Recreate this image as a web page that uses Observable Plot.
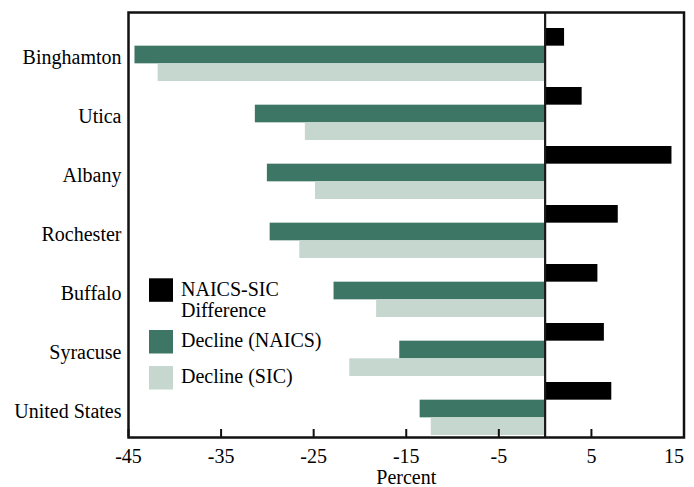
<!DOCTYPE html>
<html>
<head>
<meta charset="utf-8">
<script src="https://cdn.jsdelivr.net/npm/d3@7"></script>
<script src="https://cdn.jsdelivr.net/npm/@observablehq/plot@0.6"></script>
<style>
  html, body { margin: 0; padding: 0; background: #fff; }
  #chart { width: 694px; height: 487px; }
  svg { display: block; }
</style>
</head>
<body>
<div id="chart"></div>
<script>
const cities = ["Binghamton", "Utica", "Albany", "Rochester", "Buffalo", "Syracuse", "United States"];
const diffValues  = [2.1, 4.0, 13.7, 7.9, 5.7, 6.4, 7.2];
const naicsValues = [-44.3, -31.3, -30.0, -29.7, -22.8, -15.7, -13.5];
const sicValues   = [-41.8, -25.9, -24.8, -26.5, -18.2, -21.1, -12.3];
const xTicks = [-45, -35, -25, -15, -5, 5, 15];
const seriesLabels = [["NAICS-SIC", "Difference"], ["Decline (NAICS)"], ["Decline (SIC)"]];
const seriesColors = ["#000000", "#3d7664", "#c6d7d0"];

const table = cities.map((c, i) => ({city: c, diff: diffValues[i], naics: naicsValues[i], sic: sicValues[i]}));
const FONT = "'Liberation Serif', 'Times New Roman', Times, serif";
const FS = 20;
const fmt = d => String(d);

function build(bw) {
  const t = bw / 3;
  return Plot.plot({
    width: 694,
    height: 487,
    marginLeft: 128,
    marginRight: 10.5,
    marginTop: 12,
    marginBottom: 50,
    style: {fontFamily: FONT, fontSize: FS + "px", color: "#000", background: "#fff"},
    x: {domain: [-45, 15]},
    y: {type: "band", domain: cities, paddingInner: 0.1066, paddingOuter: 0.149, align: 0.87},
    marks: [
      Plot.barX(table, {x: "diff", y: "city", fill: seriesColors[0], insetTop: 0, insetBottom: 2 * t}),
      Plot.barX(table, {x: "naics", y: "city", fill: seriesColors[1], insetTop: t, insetBottom: t}),
      Plot.barX(table, {x: "sic", y: "city", fill: seriesColors[2], insetTop: 2 * t, insetBottom: 0}),
      Plot.ruleX([0], {stroke: "#1a1a1a", strokeWidth: 2.2}),
      Plot.ruleX(xTicks, {x: d => d, stroke: "#111", strokeWidth: 2, insetTop: 425 - 8}),
      Plot.axisY({tickSize: 0, tickPadding: 7, dy: 3, fontSize: FS, label: null}),
      Plot.axisX(xTicks.filter(d => d !== 15), {tickSize: 0, tickPadding: 11, fontSize: FS, tickFormat: fmt, label: null}),
      Plot.axisX([15], {tickSize: 0, tickPadding: 11, fontSize: FS, textAnchor: "end", tickFormat: fmt, label: null}),
      Plot.text(["Percent"], {frameAnchor: "bottom", dy: 46, fontSize: FS, fill: "#000"}),
      Plot.frame({stroke: "#111", strokeWidth: 2.5})
    ]
  });
}

let plot = build(0);
const bw = plot.scale("y").bandwidth;
plot = build(bw);
document.getElementById("chart").appendChild(plot);

// in-chart legend
const svg = d3.select(plot);
const legend = svg.append("g")
  .attr("font-family", FONT).attr("font-size", FS).attr("fill", "#000").attr("text-anchor", "start");
const swatchY = [278.3, 330, 366];
const textBase = [[295.7, 316.7], [346.7], [382.7]];
seriesLabels.forEach((lines, i) => {
  legend.append("rect").attr("x", 149).attr("y", swatchY[i]).attr("width", 24).attr("height", 23.5).attr("fill", seriesColors[i]);
  lines.forEach((ln, j) => {
    legend.append("text").attr("x", 181).attr("y", textBase[i][j]).attr("text-anchor", "start").text(ln);
  });
});
</script>
</body>
</html>
